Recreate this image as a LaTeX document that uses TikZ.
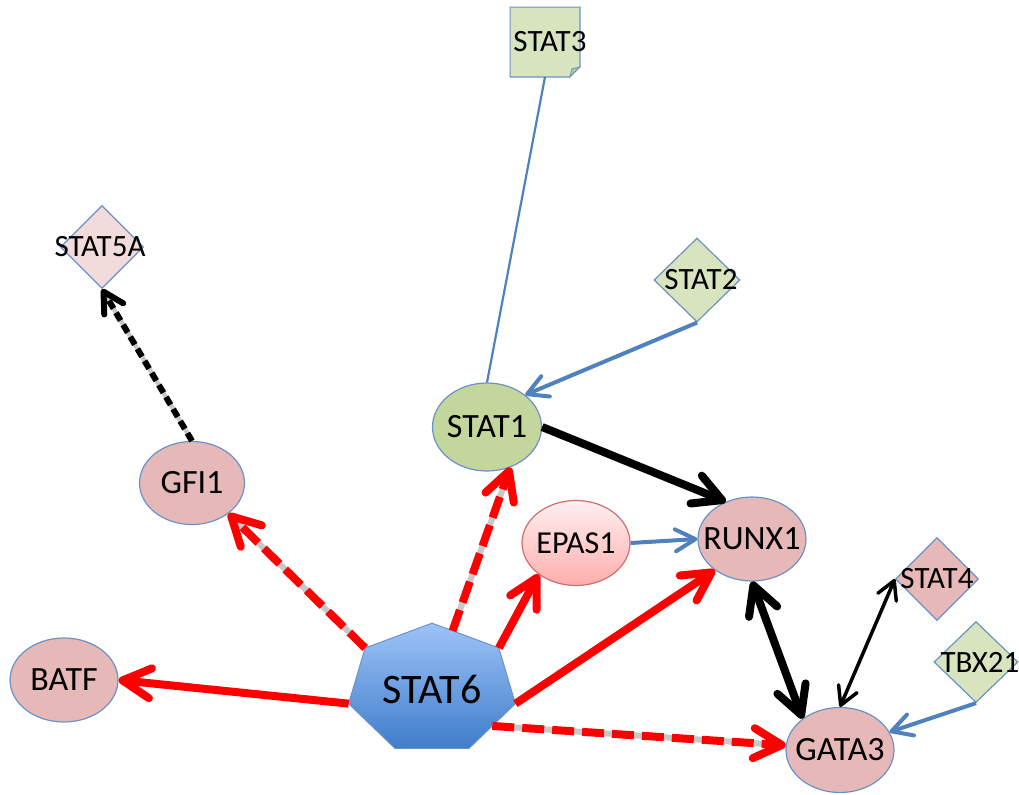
\documentclass[tikz,border=0pt]{standalone}
\usepackage{fontspec}
\setmainfont{Carlito}
\usetikzlibrary{shapes.geometric,arrows.meta}
\definecolor{nodeline}{HTML}{6A92C8}
\definecolor{pinkfill}{HTML}{E6B9B8}
\definecolor{palepink}{HTML}{F2DCDB}
\definecolor{greenfill}{HTML}{D7E4BD}
\definecolor{olivefill}{HTML}{C3D69B}
\definecolor{foldgreen}{HTML}{B5C98E}
\definecolor{linkblue}{HTML}{4F81BD}
\definecolor{dashgrey}{HTML}{C8C8C8}
\definecolor{epasline}{HTML}{D0706E}
\tikzset{
  gene/.style={ellipse, draw=nodeline, line width=0.6pt, minimum width=54pt, minimum height=42pt, inner sep=0pt},
  genetext/.style={font=\fontsize{17}{20}\selectfont},
  factor/.style={diamond, draw=nodeline, line width=0.6pt, minimum width=41.5pt, minimum height=41.5pt, inner sep=0pt},
  factortext/.style={font=\fontsize{15.5}{18}\selectfont},
  redlink/.style={draw=red, line width=4pt, -{Straight Barb[length=14pt,width=15pt,round]}},
  reddash/.style={redlink, dash pattern=on 11pt off 4pt, preaction={draw=dashgrey, solid, line width=3pt}},
  bluelink/.style={draw=linkblue, line width=2pt, -{Straight Barb[length=10pt,width=11pt,round]}},
  blacklink/.style={draw=black, line width=4pt, -{Straight Barb[length=14pt,width=15pt,round]}},
}
\begin{document}
\begin{tikzpicture}[x=0.5pt, y=-0.5pt]
\useasboundingbox (0,0) rectangle (1019,794);

% hub
\node[regular polygon, regular polygon sides=7, minimum size=65.8pt, inner sep=0pt, outer sep=0pt, xscale=1.3,
      draw=nodeline, line width=0.5pt, top color={rgb,255:red,157;green,195;blue,247}, bottom color={rgb,255:red,63;green,125;blue,203}] (stat6) at (432,689) {};
\node[font=\fontsize{21}{24}\selectfont] (stat6text) at (stat6.center) {STAT6};

% genes
\node[gene, fill=pinkfill, label={[genetext]center:BATF}] (batf) at (64,680) {};
\node[gene, fill=pinkfill, minimum width=52.5pt, minimum height=41.5pt, label={[genetext]center:GFI1}] (gfi1) at (192,483) {};
\node[gene, fill=olivefill, minimum width=54.5pt, minimum height=44pt, label={[genetext]center:STAT1}] (stat1) at (487,427) {};
\node[gene, draw=epasline, top color=red!6, bottom color=red!32, minimum height=42.5pt,
      label={[font=\fontsize{16}{19}\selectfont]center:EPAS1}] (epas1) at (576,543) {};
\node[gene, fill=pinkfill, label={[genetext]center:RUNX1}] (runx1) at (752,539) {};
\node[gene, fill=pinkfill, minimum height=42.5pt, label={[genetext]center:GATA3}] (gata3) at (840,750) {};

% diamonds
\node[factor, fill=palepink, label={[factortext, xshift=-1pt]center:STAT5A}] (stat5a) at (102,247) {};
\node[factor, fill=greenfill, minimum width=43pt, minimum height=42pt, label={[factortext, xshift=2pt]center:STAT2}] (stat2) at (697,280) {};
\node[factor, fill=pinkfill, label={[factortext]center:STAT4}] (stat4) at (937,579) {};
\node[factor, fill=greenfill, minimum width=42pt, minimum height=40.5pt, label={[factortext, xshift=2pt]center:TBX21}] (tbx21) at (976,662) {};

% note
\node[minimum width=34.5pt, minimum height=34.5pt, inner sep=0pt] (stat3) at (545,42) {};
\filldraw[fill=greenfill, draw=nodeline, line width=0.6pt] (stat3.north west) -- (stat3.north east)
  -- ([yshift=5pt]stat3.south east) -- ([xshift=-5pt]stat3.south east) -- (stat3.south west) -- cycle;
\filldraw[fill=foldgreen, draw=nodeline, line width=0.4pt] ([yshift=5pt]stat3.south east) -- ([xshift=-5pt]stat3.south east)
  -- ([xshift=-4pt,yshift=4pt]stat3.south east) -- cycle;
\node[factortext, xshift=2.5pt] (stat3text) at (stat3.center) {STAT3};

% links from STAT6
\draw[redlink] (stat6.corner 3) -- (batf.east);
\draw[reddash] (stat6.corner 2) -- (gfi1.-40);
\draw[reddash] (stat6) -- (stat1.-60);
\draw[redlink] (stat6.corner 7) -- (epas1.-140);
\draw[redlink] (stat6.corner 6) -- (runx1.-140);
\draw[reddash] (stat6.side 5) -- (gata3.175);

% other links
\draw[black, line width=3pt, dash pattern=on 4.5pt off 2.5pt, preaction={draw=dashgrey, solid, line width=2.2pt},
      -{Straight Barb[length=10pt,width=11pt,round]}] (gfi1.north) -- (stat5a.south);
\draw[linkblue, line width=1.1pt] (stat3.south) -- (stat1.north);
\draw[bluelink] (stat2.south) -- (stat1.40);
\draw[blacklink] (stat1.east) -- (runx1.125);
\draw[bluelink] (epas1.east) -- (runx1.west);
\draw[blacklink, {Straight Barb[length=14pt,width=15pt,round]}-{Straight Barb[length=14pt,width=15pt,round]}] (runx1.south) -- (gata3.140);
\draw[black, line width=1.75pt, {Straight Barb[length=9pt,width=10pt,round]}-{Straight Barb[length=9pt,width=10pt,round]}] (stat4.west) -- (gata3.north);
\draw[bluelink] (tbx21.south) -- (gata3.20);
\end{tikzpicture}
\end{document}
